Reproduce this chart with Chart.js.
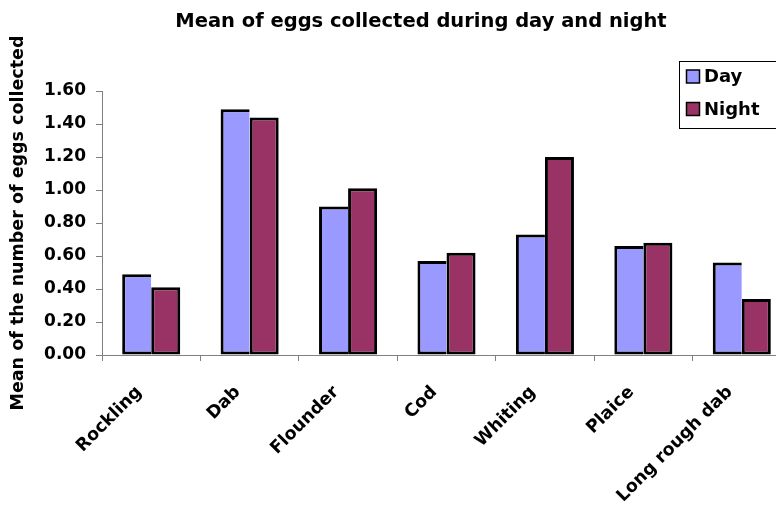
<!DOCTYPE html>
<html>
<head>
<meta charset="utf-8">
<script src="https://cdn.jsdelivr.net/npm/chart.js@4"></script>
<style>
  html, body { margin: 0; padding: 0; background: #fff; overflow: hidden; }
  #wrap { width: 776px; height: 506px; overflow: hidden; position: relative; }
  canvas { display: block; }
</style>
</head>
<body>
<div id="wrap"><canvas id="eggs" width="842" height="506"></canvas></div>
<script>
// Species sampled and the mean egg counts per haul
const species = ['Rockling', 'Dab', 'Flounder', 'Cod', 'Whiting', 'Plaice', 'Long rough dab'];
const dayMeans = [0.49, 1.49, 0.90, 0.57, 0.73, 0.66, 0.56];
const nightMeans = [0.41, 1.44, 1.01, 0.62, 1.20, 0.68, 0.34];
const seriesNames = ['Day', 'Night'];

const chartTitle = 'Mean of eggs collected during day and night';
const yAxisTitle = 'Mean of the number of eggs collected';
const yMin = 0;
const yMax = 1.6;
const yStep = 0.2;

const FONT = '"DejaVu Sans", "Liberation Sans", Arial, sans-serif';
Chart.defaults.font.family = FONT;
Chart.defaults.font.weight = 'bold';
Chart.defaults.color = '#000';

// Chart heading, centred over the visible page width
const heading = {
  id: 'heading',
  afterDraw(chart) {
    const ctx = chart.ctx;
    ctx.save();
    ctx.font = 'bold 19.5px ' + FONT;
    ctx.fillStyle = '#000';
    ctx.textAlign = 'center';
    ctx.textBaseline = 'alphabetic';
    ctx.fillText(chartTitle, 421, 26.5);
    ctx.restore();
  }
};

// Boxed legend drawn over the top-right corner of the plot
const boxLegend = {
  id: 'boxLegend',
  afterDraw(chart) {
    const ctx = chart.ctx;
    ctx.save();
    ctx.strokeStyle = '#000';
    ctx.lineWidth = 1;
    ctx.strokeRect(679.5, 61.5, 140, 67);
    ctx.font = 'bold 18px ' + FONT;
    ctx.textBaseline = 'middle';
    ctx.textAlign = 'left';
    chart.data.datasets.forEach((ds, i) => {
      const y = 76.5 + i * 32.5;
      ctx.fillStyle = ds.backgroundColor;
      ctx.fillRect(686.5, y - 6.5, 13, 13);
      ctx.lineWidth = 1.5;
      ctx.strokeStyle = '#000';
      ctx.strokeRect(686.5, y - 6.5, 13, 13);
      ctx.fillStyle = '#000';
      ctx.fillText(ds.label, 704, y + 1);
    });
    ctx.restore();
  }
};

new Chart(document.getElementById('eggs'), {
  type: 'bar',
  data: {
    labels: species,
    datasets: [
      {
        label: seriesNames[0],
        data: dayMeans,
        backgroundColor: '#9999FF',
        borderColor: '#000',
        borderWidth: { top: 3, left: 3, bottom: 3, right: 0 },
        borderSkipped: false,
        categoryPercentage: 0.59,
        barPercentage: 1.0
      },
      {
        label: seriesNames[1],
        data: nightMeans,
        backgroundColor: '#993366',
        borderColor: '#000',
        borderWidth: 3,
        borderSkipped: false,
        categoryPercentage: 0.59,
        barPercentage: 1.0
      }
    ]
  },
  options: {
    responsive: false,
    animation: false,
    layout: { padding: { left: 0, right: 51, top: 91, bottom: 0 } },
    plugins: {
      legend: { display: false },
      tooltip: { enabled: false },
      title: { display: false }
    },
    scales: {
      x: {
        grid: {
          display: true,
          drawOnChartArea: false,
          drawTicks: true,
          tickLength: 6,
          color: '#808080',
          offset: true
        },
        border: { display: true, color: '#808080', width: 1 },
        ticks: {
          autoSkip: false,
          maxRotation: 45,
          minRotation: 45,
          padding: 21,
          labelOffset: -12,
          color: '#000',
          font: { size: 17.5, weight: 'bold' }
        },
        afterFit(scale) { scale.height = 151; }
      },
      y: {
        min: yMin,
        max: yMax,
        grid: {
          display: true,
          drawOnChartArea: false,
          drawTicks: true,
          tickLength: 6,
          color: '#808080'
        },
        border: { display: true, color: '#808080', width: 1 },
        ticks: {
          stepSize: yStep,
          padding: 10,
          color: '#000',
          font: { size: 17, weight: 'bold' },
          callback: (v) => Number(v).toFixed(2)
        },
        title: {
          display: true,
          text: yAxisTitle,
          color: '#000',
          font: { size: 17.5, weight: 'bold' },
          padding: { top: 8, bottom: 0 }
        },
        afterFit(scale) { scale.width = 102; }
      }
    }
  },
  plugins: [heading, boxLegend]
});
</script>
</body>
</html>
